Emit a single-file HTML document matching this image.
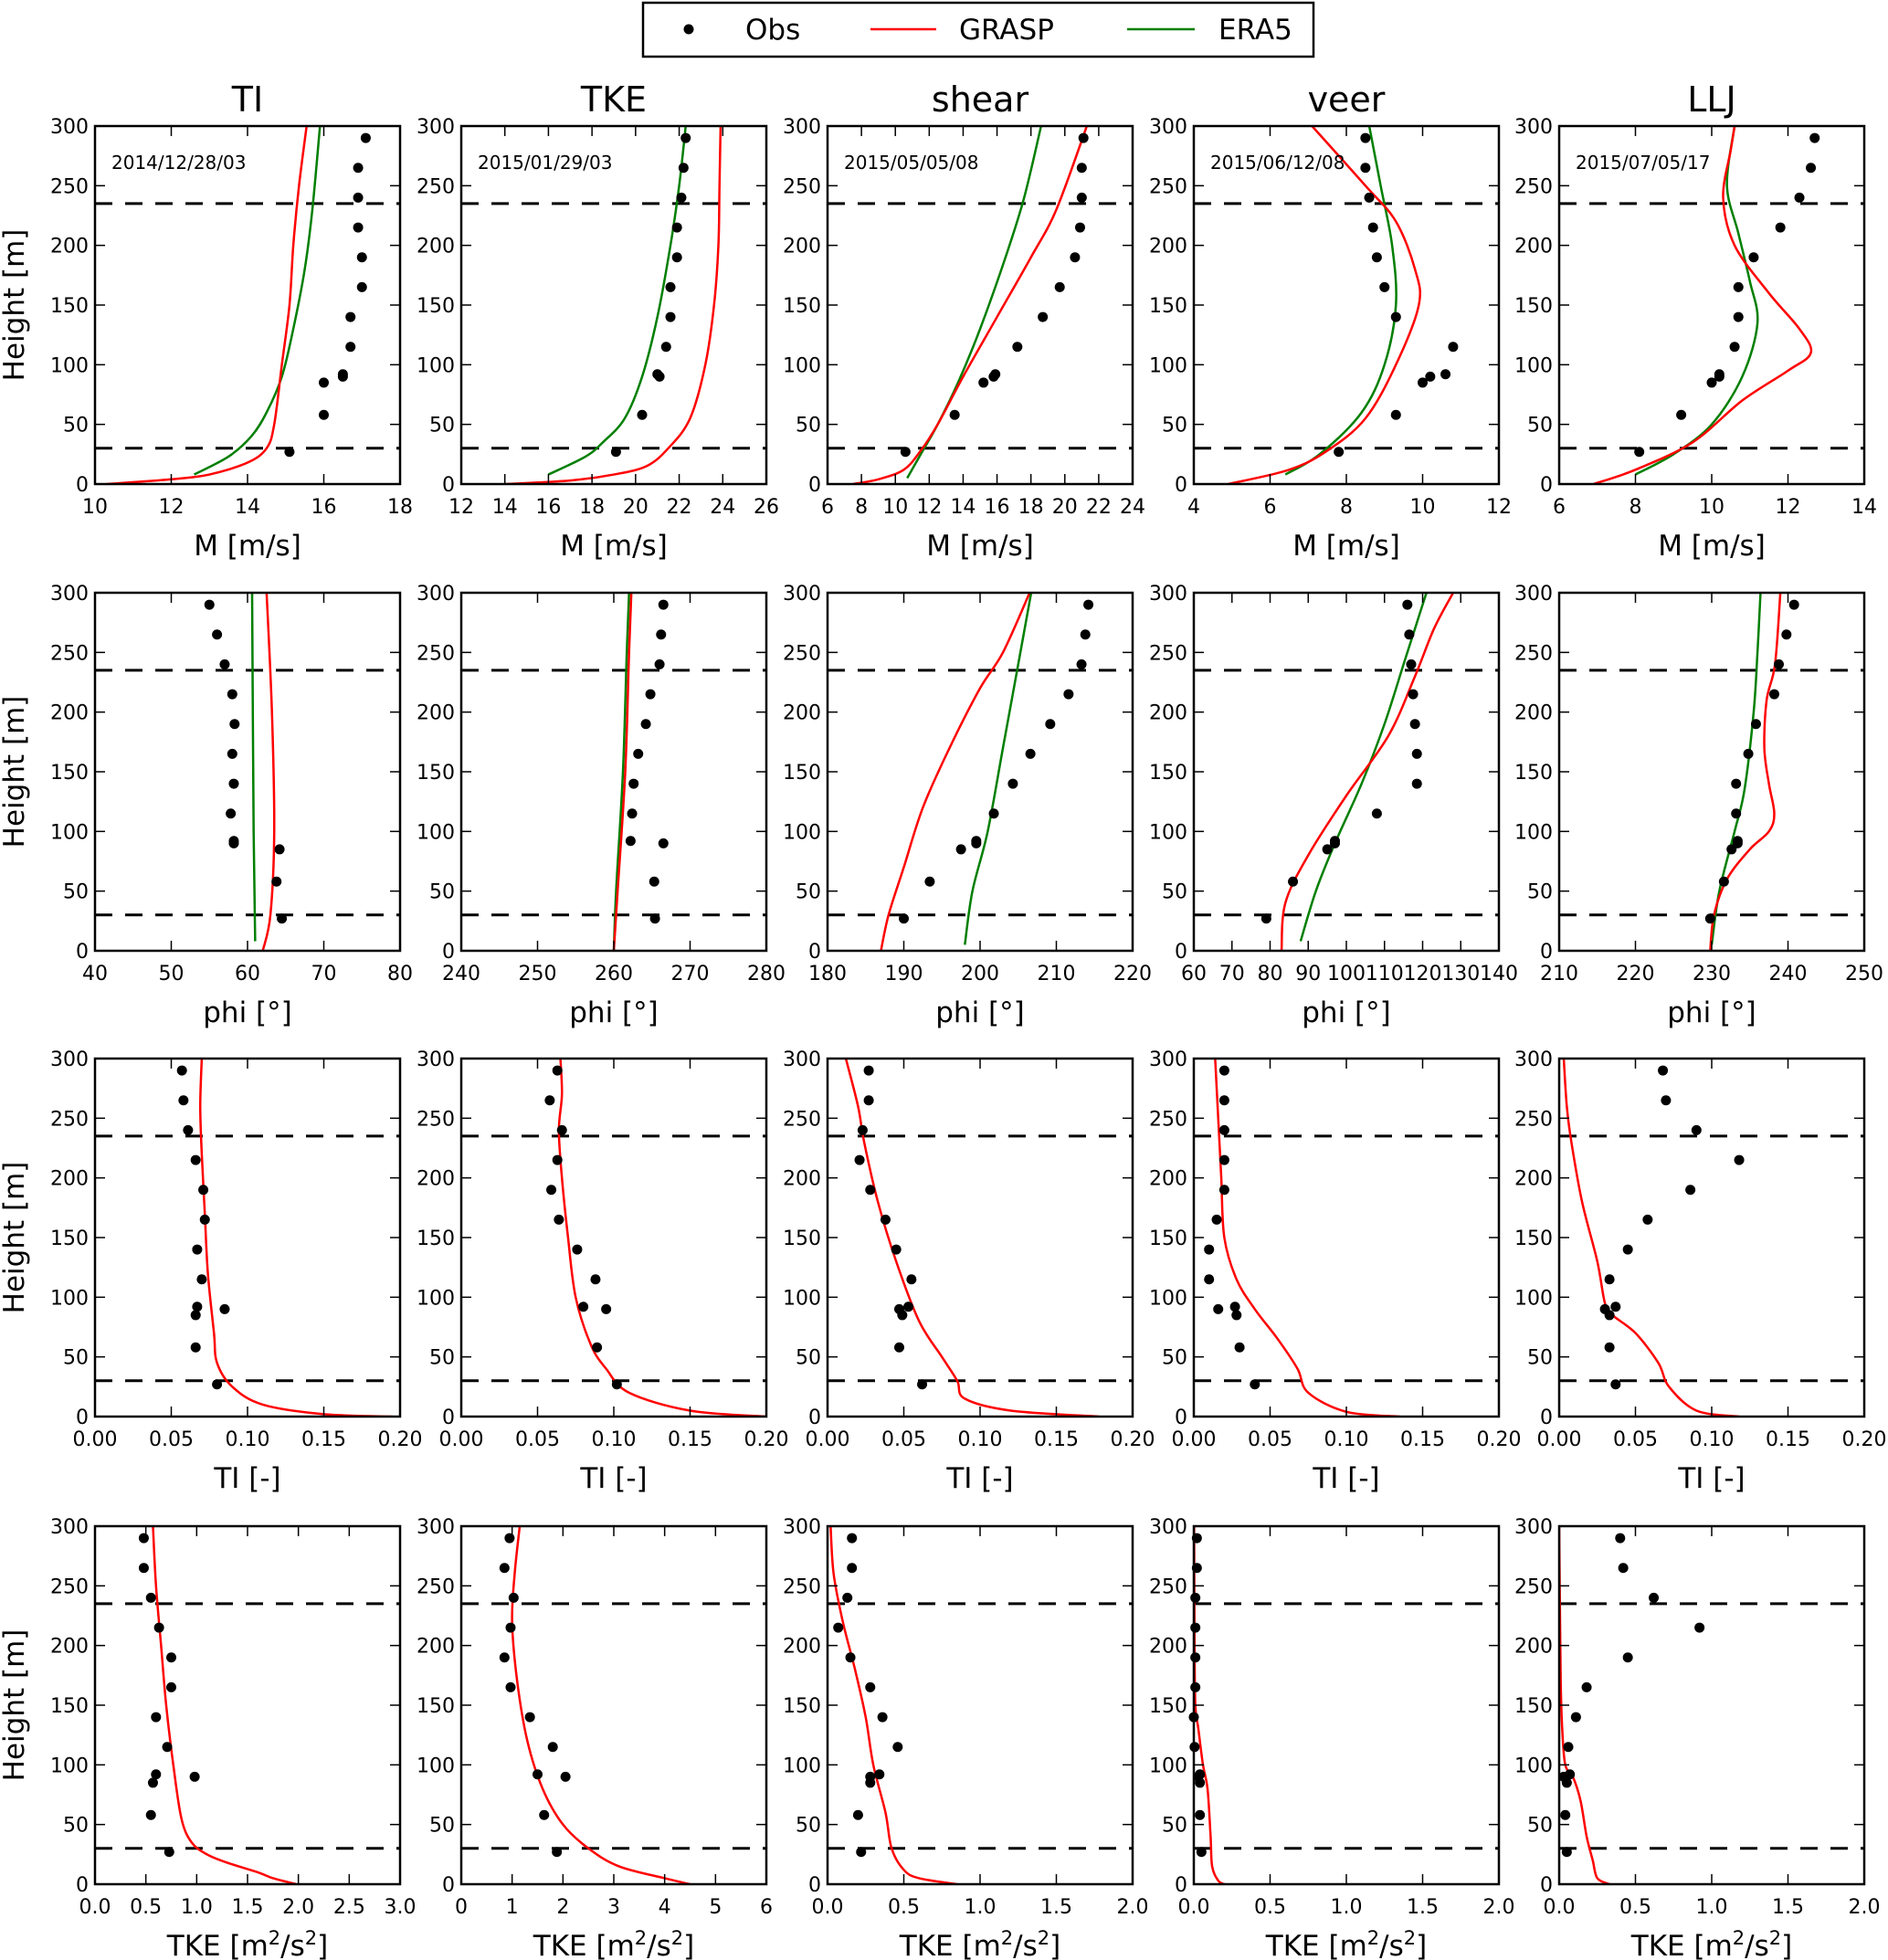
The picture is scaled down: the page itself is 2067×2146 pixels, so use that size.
<!DOCTYPE html>
<html><head><meta charset="utf-8">
<style>
html,body{margin:0;padding:0;background:#fff;}
svg{display:block;font-family:"DejaVu Sans","Liberation Sans",sans-serif;}
</style></head>
<body>
<svg id="fig" width="2067" height="2146" viewBox="0 0 2067 2146" xmlns="http://www.w3.org/2000/svg">
<rect width="2067" height="2146" fill="#fff"/>
<g>
<rect x="704" y="3" width="734" height="59" fill="#fff" stroke="#000" stroke-width="2.5"/>
<g><circle cx="754" cy="32" r="5.5" fill="#000"/><text x="816" y="43" font-size="31">Obs</text></g>
<g><line x1="953" y1="32" x2="1025" y2="32" stroke="#ff0000" stroke-width="2.5"/><text x="1050" y="43" font-size="31">GRASP</text></g>
<g><line x1="1234" y1="32" x2="1308" y2="32" stroke="#007f00" stroke-width="2.5"/><text x="1334" y="43" font-size="31">ERA5</text></g>
</g>
<g id="panels"></g>
</svg>
<script>
// ---- data ----
const obsH = [290,265,240,215,190,165,140,115,92,90,85,58,27];
const obsH2 = [290,265,240,215,190,165,140,115,92,90,58,27];
const colTitles = ["TI","TKE","shear","veer","LLJ"];
const dates = ["2014/12/28/03","2015/01/29/03","2015/05/05/08","2015/06/12/08","2015/07/05/17"];
const yTicks = [0,50,100,150,200,250,300];
const dashHeights = [30,235];

// Row 1: wind speed M
const mXr = [[10,18],[12,26],[6,24],[4,12],[6,14]];
const mXt = [[10,12,14,16,18],[12,14,16,18,20,22,24,26],[6,8,10,12,14,16,18,20,22,24],[4,6,8,10,12],[6,8,10,12,14]];
const mObs1 = [17.1,16.9,16.9,16.9,17.0,17.0,16.7,16.7,16.5,16.5,16.0,16.0,15.1];
const mObs2 = [22.3,22.2,22.1,21.9,21.9,21.6,21.6,21.4,21.0,21.1,20.3,19.1];
const mObs3 = [21.1,21.0,21.0,20.9,20.6,19.7,18.7,17.2,15.9,15.8,15.2,13.5,10.6];
const mObs4 = [8.5,8.5,8.6,8.7,8.8,9.0,9.3,10.8,10.6,10.2,10.0,9.3,7.8];
const mObs5 = [12.7,12.6,12.3,11.8,11.1,10.7,10.7,10.6,10.2,10.2,10.0,9.2,8.1];
const mG1 = [[10.3,0],[12,4],[13,8],[14,18],[14.5,30],[14.7,50],[14.9,100],[15.1,150],[15.2,200],[15.35,250],[15.55,300]];
const mG2 = [[14,0],[17,3],[19,8],[20.5,15],[21.5,30],[22.5,55],[23.2,100],[23.6,150],[23.8,200],[23.85,250],[23.9,300]];
const mG3 = [[7.5,0],[9,4],[10.5,12],[11.5,28],[12.5,50],[14,90],[16,140],[18,190],[19.5,230],[21.3,300]];
const mG4 = [[4.9,0],[6.5,12],[7.5,28],[8.5,55],[9.3,100],[9.9,150],[9.8,180],[9.3,220],[8.5,250],[7.1,300]];
const mG5 = [[6.9,0],[8,12],[9.5,35],[10.8,70],[12,95],[12.6,110],[12.3,130],[11.5,160],[10.6,200],[10.3,240],[10.5,280],[10.6,300]];
const mE1 = [[12.6,8],[13.5,23],[14.1,40],[14.5,60],[14.9,90],[15.2,130],[15.5,180],[15.7,230],[15.9,300]];
const mE2 = [[16,8],[17.7,23],[18.5,35],[19.5,55],[20.3,90],[21,140],[21.6,200],[22,250],[22.3,300]];
const mE3 = [[10.7,5],[11.5,25],[12.5,50],[13.7,85],[15,130],[16.5,190],[17.6,240],[18.6,300]];
const mE4 = [[6.4,8],[7.3,25],[8.4,60],[9.0,100],[9.3,150],[9.2,200],[8.9,250],[8.6,300]];
const mE5 = [[8,8],[9,25],[10,50],[10.8,90],[11.2,135],[11.0,170],[10.7,210],[10.4,250],[10.6,300]];

// Row 2: wind direction phi
const pXr = [[40,80],[240,280],[180,220],[60,140],[210,250]];
const pXt = [[40,50,60,70,80],[240,250,260,270,280],[180,190,200,210,220],[60,70,80,90,100,110,120,130,140],[210,220,230,240,250]];
const pObs1 = [55,56,57,58,58.3,58,58.2,57.8,58.2,58.2,64.2,63.8,64.5];
const pObs2 = [266.5,266.2,266,264.8,264.2,263.2,262.6,262.4,262.2,266.5,265.3,265.4];
const pObs3 = [214.2,213.8,213.3,211.6,209.2,206.6,204.3,201.8,199.5,199.5,197.5,193.4,190];
const pObs4 = [116,116.5,117,117.5,118,118.5,118.5,108,97,97,95,86,79];
const pObs5 = [240.8,239.8,238.8,238.2,235.8,234.8,233.2,233.2,233.4,233.4,232.6,231.6,229.8];
const pG1 = [[62,0],[63,30],[63.5,100],[63.2,200],[62.5,300]];
const pG2 = [[260,0],[260.5,50],[261.5,150],[262,250],[262.3,300]];
const pG3 = [[187,0],[188,30],[190,70],[192.5,120],[196,170],[200,220],[203,250],[206.5,300]];
const pG4 = [[83,0],[84,40],[90,80],[100,130],[111,180],[118,230],[123,270],[128,300]];
const pG5 = [[229.8,0],[230.3,30],[232,60],[235,85],[237.5,100],[238.2,115],[237.5,140],[236.9,170],[237.2,210],[238.3,240],[239,300]];
const pE1 = [[61,8],[60.8,100],[60.6,300]];
const pE2 = [[260,0],[260.3,50],[261.2,150],[261.7,250],[262,300]];
const pE3 = [[198,5],[199,50],[201,100],[203,170],[205,240],[206.7,300]];
const pE4 = [[88,8],[92,50],[97,90],[104,140],[110,190],[115,240],[118,270],[121,300]];
const pE5 = [[230,5],[231,50],[233,100],[234.3,135],[235.5,200],[236,250],[236.4,300]];

// Row 3: TI
const tXr = [[0,0.2],[0,0.2],[0,0.2],[0,0.2],[0,0.2]];
const tXt = [0,0.05,0.10,0.15,0.20];
const tObs1 = [0.057,0.058,0.061,0.066,0.071,0.072,0.067,0.070,0.067,0.085,0.066,0.066,0.080];
const tObs2 = [0.063,0.058,0.066,0.063,0.059,0.064,0.076,0.088,0.080,0.095,0.089,0.102];
const tObs3 = [0.027,0.027,0.023,0.021,0.028,0.038,0.045,0.055,0.053,0.047,0.049,0.047,0.062];
const tObs4 = [0.020,0.020,0.020,0.020,0.020,0.015,0.010,0.010,0.027,0.016,0.028,0.030,0.040];
const tObs5 = [0.068,0.070,0.090,0.118,0.086,0.058,0.045,0.033,0.037,0.030,0.033,0.033,0.037];
const tG1 = [[0.195,0],[0.15,2],[0.11,10],[0.09,25],[0.08,45],[0.078,70],[0.074,120],[0.072,170],[0.07,220],[0.069,260],[0.07,300]];
const tG2 = [[0.2,0],[0.15,5],[0.11,20],[0.095,40],[0.085,60],[0.075,100],[0.07,150],[0.066,200],[0.064,240],[0.066,270],[0.065,300]];
const tG3 = [[0.178,0],[0.12,5],[0.09,15],[0.085,30],[0.075,50],[0.06,80],[0.045,130],[0.033,180],[0.024,230],[0.02,260],[0.012,300]];
const tG4 = [[0.135,0],[0.1,4],[0.075,20],[0.068,40],[0.055,65],[0.04,90],[0.028,115],[0.02,150],[0.018,200],[0.016,250],[0.014,300]];
const tG5 = [[0.118,0],[0.09,5],[0.072,25],[0.065,45],[0.05,70],[0.035,85],[0.03,95],[0.025,130],[0.015,180],[0.008,230],[0.005,260],[0.003,300]];

// Row 4: TKE
const kXr = [[0,3],[0,6],[0,2],[0,2],[0,2]];
const kXt = [[0,0.5,1,1.5,2,2.5,3],[0,1,2,3,4,5,6],[0,0.5,1,1.5,2],[0,0.5,1,1.5,2],[0,0.5,1,1.5,2]];
const kObs1 = [0.48,0.48,0.55,0.63,0.75,0.75,0.6,0.71,0.6,0.98,0.57,0.55,0.73];
const kObs2 = [0.95,0.85,1.03,0.97,0.85,0.97,1.35,1.8,1.5,2.05,1.63,1.88];
const kObs3 = [0.16,0.16,0.13,0.07,0.15,0.28,0.36,0.46,0.34,0.28,0.28,0.2,0.22];
const kObs4 = [0.02,0.02,0.01,0.01,0.01,0.01,0.0,0.005,0.04,0.03,0.04,0.04,0.05];
const kObs5 = [0.4,0.42,0.62,0.92,0.45,0.18,0.11,0.06,0.07,0.03,0.05,0.04,0.05];
const kG1 = [[1.98,0],[1.75,5],[1.6,10],[1.3,18],[1.1,25],[0.95,35],[0.85,55],[0.77,100],[0.7,150],[0.65,200],[0.6,250],[0.57,300]];
const kG2 = [[4.5,0],[4,5],[3.1,15],[2.5,30],[2,50],[1.6,80],[1.3,120],[1.1,170],[1.0,220],[1.05,260],[1.15,300]];
const kG3 = [[0.85,0],[0.6,5],[0.5,12],[0.42,30],[0.38,60],[0.3,100],[0.25,140],[0.18,180],[0.1,220],[0.04,260],[0.02,300]];
const kG4 = [[0.2,0],[0.16,3],[0.12,15],[0.11,40],[0.09,80],[0.06,100],[0.03,130],[0.01,150],[0.005,200],[0.002,300]];
const kG5 = [[0.33,0],[0.25,5],[0.22,20],[0.18,40],[0.14,70],[0.09,90],[0.04,100],[0.02,130],[0.01,170],[0.005,230],[0,300]];

// ---- layout ----
const colX = [104,505,906,1307,1707];
const rowY = [138,649,1159,1671];
const PW = 334, PH = 392;
const NS = "http://www.w3.org/2000/svg";
const root = document.getElementById('panels');
function mk(tag, attrs, parent){ const e=document.createElementNS(NS,tag); for(const k in attrs) e.setAttribute(k,attrs[k]); (parent||root).appendChild(e); return e; }
function fmt(v, dec){ return dec>0 ? v.toFixed(dec) : String(v); }
function smooth(pts){
  if(pts.length<3) return 'M'+pts.map(p=>p[0]+','+p[1]).join(' L');
  let d='M'+pts[0][0]+','+pts[0][1];
  for(let i=0;i<pts.length-1;i++){
    const p0=pts[i-1]||pts[i], p1=pts[i], p2=pts[i+1], p3=pts[i+2]||p2;
    const c1=[p1[0]+(p2[0]-p0[0])/6, p1[1]+(p2[1]-p0[1])/6];
    const c2=[p2[0]-(p3[0]-p1[0])/6, p2[1]-(p3[1]-p1[1])/6];
    d+=' C'+c1[0]+','+c1[1]+' '+c2[0]+','+c2[1]+' '+p2[0]+','+p2[1];
  }
  return d;
}

const rows = [
 {xr:mXr, xt:mXt, obs:[mObs1,mObs2,mObs3,mObs4,mObs5], g:[mG1,mG2,mG3,mG4,mG5], e:[mE1,mE2,mE3,mE4,mE5], lab:'M [m/s]', dec:[0,0,0,0,0], name:'speed'},
 {xr:pXr, xt:pXt, obs:[pObs1,pObs2,pObs3,pObs4,pObs5], g:[pG1,pG2,pG3,pG4,pG5], e:[pE1,pE2,pE3,pE4,pE5], lab:'phi [°]', dec:[0,0,0,0,0], name:'direction'},
 {xr:tXr, xt:[tXt,tXt,tXt,tXt,tXt], obs:[tObs1,tObs2,tObs3,tObs4,tObs5], g:[tG1,tG2,tG3,tG4,tG5], e:null, lab:'TI [-]', dec:[2,2,2,2,2], name:'ti'},
 {xr:kXr, xt:kXt, obs:[kObs1,kObs2,kObs3,kObs4,kObs5], g:[kG1,kG2,kG3,kG4,kG5], e:null, lab:'TKE', dec:[1,0,1,1,1], name:'tke'}
];

rows.forEach((row, r) => {
  for (let c=0;c<5;c++){
    const x0=colX[c], y0=rowY[r];
    const [xa,xb]=row.xr[c];
    const sx = v => x0 + (v-xa)/(xb-xa)*PW;
    const sy = h => y0 + PH - h/300*PH;
    const g = mk('g',{});
    
    
    const clipId='clip'+r+'_'+c;
    const cp=mk('clipPath',{id:clipId},g); mk('rect',{x:x0,y:y0,width:PW,height:PH},cp);
    const plot=mk('g',{'clip-path':'url(#'+clipId+')'},g);
    dashHeights.forEach(h=>{
      const l=mk('line',{x1:x0,x2:x0+PW,y1:sy(h),y2:sy(h),stroke:'#000','stroke-width':3,'stroke-dasharray':'19,14'},plot);
      
      
    });
    if(row.e){
      const pe=mk('path',{d:smooth(row.e[c].map(p=>[sx(p[0]),sy(p[1])])),fill:'none',stroke:'#007f00','stroke-width':2.5},plot);
      
      
    }
    const pg=mk('path',{d:smooth(row.g[c].map(p=>[sx(p[0]),sy(p[1])])),fill:'none',stroke:'#ff0000','stroke-width':2.5,'stroke-linejoin':'round'},plot);
    
    
    const ov=row.obs[c]; const hs = ov.length===12?obsH2:obsH;
    ov.forEach((v,i)=>{
      const d=mk('circle',{cx:sx(v),cy:sy(hs[i]),r:5.5,fill:'#000'},g);
      
      
    });
    const fr=mk('rect',{x:x0,y:y0,width:PW,height:PH,fill:'none',stroke:'#000','stroke-width':2.5},g);
    
    
    yTicks.forEach(t=>{
      const y=sy(t);
      mk('line',{x1:x0,x2:x0+11,y1:y,y2:y,stroke:'#000','stroke-width':1.5},g);
      mk('line',{x1:x0+PW,x2:x0+PW-11,y1:y,y2:y,stroke:'#000','stroke-width':1.5},g);
      const tl=mk('text',{x:x0-7,y:y+8,'font-size':22,'text-anchor':'end'},g);
      tl.textContent=t;
      
      
    });
    row.xt[c].forEach(t=>{
      const x=sx(t);
      mk('line',{x1:x,x2:x,y1:y0+PH,y2:y0+PH-11,stroke:'#000','stroke-width':1.5},g);
      mk('line',{x1:x,x2:x,y1:y0,y2:y0+11,stroke:'#000','stroke-width':1.5},g);
      const tl=mk('text',{x:x,y:y0+PH+32,'font-size':22,'text-anchor':'middle'},g);
      tl.textContent=fmt(t,row.dec[c]);
      
      
    });
    const xl=mk('text',{x:x0+PW/2,y:y0+PH+78,'font-size':31,'text-anchor':'middle'},g);
    if(r===3){ xl.innerHTML='TKE [m<tspan dy="-12" font-size="21">2</tspan><tspan dy="12">/s</tspan><tspan dy="-12" font-size="21">2</tspan><tspan dy="12">]</tspan>'; }
    else xl.textContent=row.lab;
    
    
    if(c===0){
      const yl=mk('text',{x:0,y:0,'font-size':31,'text-anchor':'middle',transform:'translate(26,'+(y0+PH/2)+') rotate(-90)'},g);
      yl.textContent='Height [m]';
      
      
    }
    if(r===0){
      const tt=mk('text',{x:x0+PW/2,y:y0-16,'font-size':38,'text-anchor':'middle'},g);
      tt.textContent=colTitles[c];
      
      
      const dt=mk('text',{x:x0+18,y:y0+47,'font-size':20},g);
      dt.textContent=dates[c];
      
      
    }
  }
});
</script>
</body></html>
